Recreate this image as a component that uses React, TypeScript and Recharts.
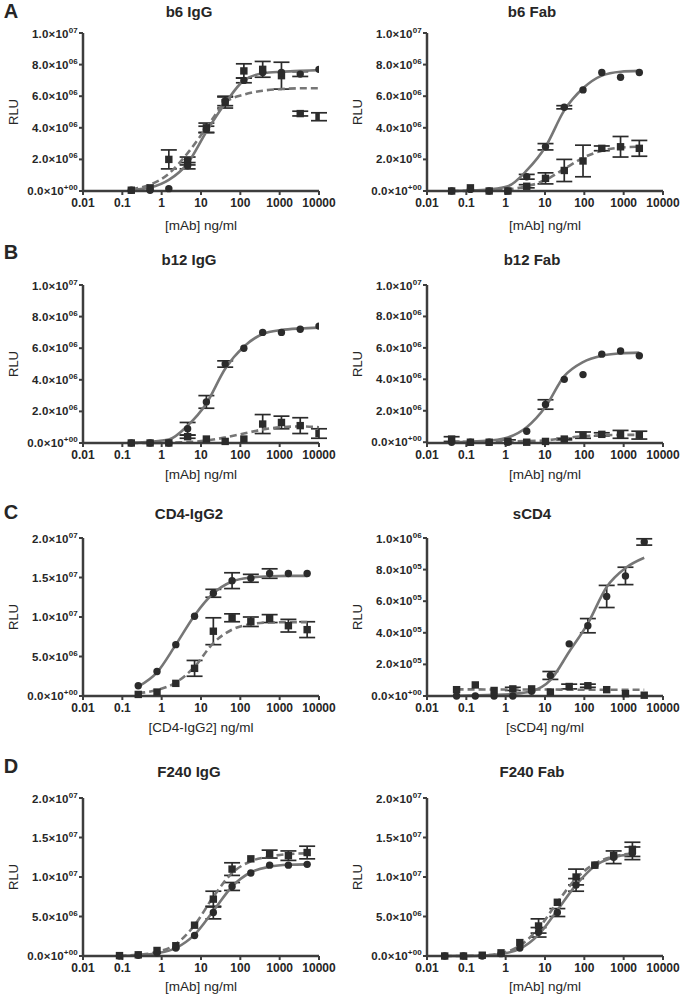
import { ComposedChart, ErrorBar, Line, Scatter, XAxis, YAxis } from "recharts";

// concentrations (ng/ml), 3-fold dilution series
const conc10000 = [0.169, 0.508, 1.52, 4.57, 13.7, 41.2, 123, 370, 1111, 3333, 10000];
const conc2500 = [0.0423, 0.127, 0.381, 1.14, 3.43, 10.3, 30.9, 92.6, 278, 833, 2500];
const conc5000 = [0.254, 0.762, 2.29, 6.86, 20.6, 61.7, 185, 556, 1667, 5000];
const conc3333 = [0.0565, 0.169, 0.508, 1.52, 4.57, 13.7, 41.2, 123, 370, 1111, 3333];
const conc5000b = [0.0847, 0.254, 0.762, 2.29, 6.86, 20.6, 61.7, 185, 556, 1667, 5000];
const conc1667 = [0.0282, 0.0847, 0.254, 0.762, 2.29, 6.86, 20.6, 61.7, 185, 556, 1667];

const xTicks = [0.01, 0.1, 1, 10, 100, 1000, 10000];
const xTickLabels = ["0.01", "0.1", "1", "10", "100", "1000", "10000"];

// y values in millions of RLU
const yTicks10 = [0, 2, 4, 6, 8, 10];
const yLabels10 = [["0.0×10", "+00"], ["2.0×10", "06"], ["4.0×10", "06"], ["6.0×10", "06"], ["8.0×10", "06"], ["1.0×10", "07"]];
const yTicks20 = [0, 5, 10, 15, 20];
const yLabels20 = [["0.0×10", "+00"], ["5.0×10", "06"], ["1.0×10", "07"], ["1.5×10", "07"], ["2.0×10", "07"]];
const yTicks1 = [0, 0.2, 0.4, 0.6, 0.8, 1.0];
const yLabels1 = [["0.0×10", "+00"], ["2.0×10", "05"], ["4.0×10", "05"], ["6.0×10", "05"], ["8.0×10", "05"], ["1.0×10", "06"]];

// b6 IgG
const b6IgGCirc = [0.05, 0.05, 0.15, 1.6, 3.9, 5.7, 7.0, 7.5, 7.5, 7.4, 7.7];
const b6IgGCircErr = [0, 0, 0, 0.2, 0.2, 0.3, 0.15, 0, 0, 0.15, 0];
const b6IgGSq = [0.05, 0.2, 2.0, 1.9, 4.0, 5.6, 7.6, 7.7, 7.3, 4.9, 4.7];
const b6IgGSqErr = [0, 0, 0.6, 0.25, 0.3, 0.35, 0.45, 0.5, 0.85, 0.15, 0.25];
const b6IgGFit = [0.07, 0.22, 0.7, 1.75, 3.75, 5.55, 7.0, 7.45, 7.55, 7.6, 7.65];
const b6IgGFitDash = [0.12, 0.4, 1.1, 2.4, 4.0, 5.6, 6.1, 6.35, 6.45, 6.5, 6.5];

// b6 Fab
const b6FabCirc = [0, 0.1, 0, 0, 0.9, 2.8, 5.3, 6.4, 7.5, 7.2, 7.5];
const b6FabCircErr = [0, 0, 0, 0, 0.15, 0.2, 0.1, 0, 0, 0, 0];
const b6FabSq = [0, 0.2, 0, 0, 0.3, 0.8, 1.3, 1.9, 2.7, 2.8, 2.7];
const b6FabSqErr = [0, 0, 0, 0, 0.1, 0.35, 0.7, 1.0, 0.15, 0.65, 0.5];
const b6FabFit = [0.01, 0.03, 0.1, 0.3, 1.3, 2.8, 5.1, 6.5, 7.3, 7.55, 7.6];
const b6FabFitDash = [0, 0.01, 0.03, 0.1, 0.3, 0.7, 1.4, 2.1, 2.55, 2.75, 2.8];

// b12 IgG
const b12IgGCirc = [0, 0, 0, 0.9, 2.6, 5.0, 6.0, 7.0, 7.0, 7.2, 7.4];
const b12IgGCircErr = [0, 0, 0, 0.4, 0.4, 0.2, 0, 0, 0, 0, 0];
const b12IgGSq = [0, 0, 0, 0.4, 0.25, 0.1, 0.25, 1.2, 1.3, 1.1, 0.6];
const b12IgGSqErr = [0, 0, 0, 0.1, 0, 0, 0, 0.6, 0.4, 0.5, 0.3];
const b12IgGFit = [0.03, 0.08, 0.22, 1.1, 2.5, 4.7, 6.1, 6.9, 7.15, 7.25, 7.3];
const b12IgGFitDash = [0, 0, 0.02, 0.06, 0.15, 0.35, 0.6, 0.85, 1.0, 1.05, 1.0];

// b12 Fab
const b12FabCirc = [0, 0, 0, 0, 0.7, 2.4, 4.0, 4.3, 5.6, 5.8, 5.5];
const b12FabCircErr = [0, 0, 0, 0, 0, 0.3, 0, 0, 0, 0, 0];
const b12FabSq = [0.2, 0, 0, 0.05, 0, 0.05, 0.2, 0.45, 0.5, 0.5, 0.45];
const b12FabSqErr = [0.15, 0, 0, 0.1, 0, 0, 0.05, 0.2, 0.1, 0.25, 0.25];
const b12FabFit = [0.01, 0.03, 0.1, 0.3, 0.95, 2.25, 4.2, 5.1, 5.5, 5.65, 5.7];
const b12FabFitDash = [0.03, 0.03, 0.04, 0.05, 0.07, 0.12, 0.25, 0.38, 0.44, 0.46, 0.47];

// CD4-IgG2
const cd4Circ = [1.3, 3.1, 6.5, 10.1, 13.0, 14.6, 14.9, 15.5, 15.5, 15.5];
const cd4CircErr = [0, 0, 0, 0, 0.5, 1.0, 0.5, 0.6, 0, 0];
const cd4Sq = [0.2, 0.5, 1.6, 3.5, 8.2, 9.9, 9.4, 9.8, 8.9, 8.4];
const cd4SqErr = [0, 0, 0, 1.0, 1.7, 0.5, 0.6, 0.5, 0.8, 1.0];
const cd4Fit = [1.2, 3.0, 6.5, 10.2, 13.0, 14.5, 15.0, 15.15, 15.2, 15.2];
const cd4FitDash = [0.35, 0.75, 1.7, 3.7, 6.7, 8.4, 9.1, 9.3, 9.35, 9.35];

// sCD4
const sCd4Circ = [0, 0, 0, 0, 0.03, 0.13, 0.33, 0.445, 0.63, 0.76, 0.975];
const sCd4CircErr = [0, 0, 0, 0, 0, 0.025, 0, 0.045, 0.07, 0.055, 0.02];
const sCd4Sq = [0.04, 0.07, 0.035, 0.045, 0.045, 0.025, 0.06, 0.065, 0.04, 0.015, 0.005];
const sCd4SqErr = [0, 0, 0, 0.01, 0, 0, 0.015, 0.01, 0, 0, 0];
const sCd4Fit = [0.002, 0.004, 0.007, 0.013, 0.03, 0.1, 0.28, 0.46, 0.69, 0.81, 0.875];
const sCd4FitDash = [0.042, 0.042, 0.041, 0.041, 0.041, 0.041, 0.04, 0.04, 0.04, 0.04, 0.04];

// F240 IgG
const f240IgGCirc = [0, 0.1, 0.4, 1.0, 2.6, 5.5, 8.8, 10.5, 11.5, 11.5, 11.6];
const f240IgGCircErr = [0, 0, 0, 0, 0, 0.8, 0.5, 0, 0, 0, 0];
const f240IgGSq = [0.05, 0.15, 0.7, 1.3, 3.9, 7.2, 11.0, 12.3, 12.9, 12.7, 13.1];
const f240IgGSqErr = [0, 0, 0, 0, 0, 1.0, 0.8, 0, 0.5, 0.6, 0.8];
const f240IgGFit = [0.02, 0.1, 0.35, 1.0, 2.7, 5.7, 8.8, 10.6, 11.3, 11.55, 11.6];
const f240IgGFitDash = [0.03, 0.15, 0.5, 1.5, 3.9, 7.5, 10.5, 12.0, 12.6, 12.9, 13.0];

// F240 Fab
const f240FabCirc = [0, 0, 0, 0.3, 1.0, 3.0, 5.5, 9.0, 11.5, 12.5, 13.0];
const f240FabCircErr = [0, 0, 0, 0, 0, 0.6, 0.5, 0.8, 0, 0.8, 0.8];
const f240FabSq = [0, 0, 0.1, 0.4, 1.7, 3.8, 6.8, 10.0, 11.5, 12.7, 13.5];
const f240FabSqErr = [0, 0, 0, 0, 0, 0.9, 0, 1.0, 0, 0, 0.9];
const f240FabFit = [0, 0.01, 0.05, 0.25, 0.9, 2.7, 5.8, 9.0, 11.4, 12.5, 12.9];
const f240FabFitDash = [0, 0.01, 0.08, 0.35, 1.3, 3.5, 6.8, 9.8, 11.7, 12.6, 13.0];

const FONT = "'Liberation Sans', Arial, Helvetica, sans-serif";
const AXIS = "#3d3d3d";
const CURVE = "#767676";
const MARK = "#2b2b2b";
const TEXT = "#262626";

const panels = [
  { letter: "A", title: "b6 IgG", xLabel: "[mAb] ng/ml", col: 0, row: 0, conc: conc10000, circ: b6IgGCirc, circErr: b6IgGCircErr, sq: b6IgGSq, sqErr: b6IgGSqErr, fit: b6IgGFit, fitDash: b6IgGFitDash, yMax: 10, yTicks: yTicks10, yLabels: yLabels10 },
  { title: "b6 Fab", xLabel: "[mAb] ng/ml", col: 1, row: 0, conc: conc2500, circ: b6FabCirc, circErr: b6FabCircErr, sq: b6FabSq, sqErr: b6FabSqErr, fit: b6FabFit, fitDash: b6FabFitDash, yMax: 10, yTicks: yTicks10, yLabels: yLabels10 },
  { letter: "B", title: "b12 IgG", xLabel: "[mAb] ng/ml", col: 0, row: 1, conc: conc10000, circ: b12IgGCirc, circErr: b12IgGCircErr, sq: b12IgGSq, sqErr: b12IgGSqErr, fit: b12IgGFit, fitDash: b12IgGFitDash, yMax: 10, yTicks: yTicks10, yLabels: yLabels10 },
  { title: "b12 Fab", xLabel: "[mAb] ng/ml", col: 1, row: 1, conc: conc2500, circ: b12FabCirc, circErr: b12FabCircErr, sq: b12FabSq, sqErr: b12FabSqErr, fit: b12FabFit, fitDash: b12FabFitDash, yMax: 10, yTicks: yTicks10, yLabels: yLabels10 },
  { letter: "C", title: "CD4-IgG2", xLabel: "[CD4-IgG2] ng/ml", col: 0, row: 2, conc: conc5000, circ: cd4Circ, circErr: cd4CircErr, sq: cd4Sq, sqErr: cd4SqErr, fit: cd4Fit, fitDash: cd4FitDash, yMax: 20, yTicks: yTicks20, yLabels: yLabels20 },
  { title: "sCD4", xLabel: "[sCD4] ng/ml", col: 1, row: 2, conc: conc3333, circ: sCd4Circ, circErr: sCd4CircErr, sq: sCd4Sq, sqErr: sCd4SqErr, fit: sCd4Fit, fitDash: sCd4FitDash, yMax: 1, yTicks: yTicks1, yLabels: yLabels1 },
  { letter: "D", title: "F240 IgG", xLabel: "[mAb] ng/ml", col: 0, row: 3, conc: conc5000b, circ: f240IgGCirc, circErr: f240IgGCircErr, sq: f240IgGSq, sqErr: f240IgGSqErr, fit: f240IgGFit, fitDash: f240IgGFitDash, yMax: 20, yTicks: yTicks20, yLabels: yLabels20 },
  { title: "F240 Fab", xLabel: "[mAb] ng/ml", col: 1, row: 3, conc: conc1667, circ: f240FabCirc, circErr: f240FabCircErr, sq: f240FabSq, sqErr: f240FabSqErr, fit: f240FabFit, fitDash: f240FabFitDash, yMax: 20, yTicks: yTicks20, yLabels: yLabels20 },
];

// layout: plot area tops per row, plot left per column
const plotTops = [33, 285, 538, 798];
const plotLefts = [83, 427];
const PLOT_W = 236;
const PLOT_H = 158;
const Y_AXIS_W = 83;
const M_TOP = 8;
const xTitleOffset = [35, 32, 32, 31];

const CircleDot = (props: any) => {
  const { cx, cy } = props;
  if (cx == null || cy == null) return null;
  return <circle cx={cx} cy={cy} r={3.7} fill={MARK} />;
};

const SquareDot = (props: any) => {
  const { cx, cy } = props;
  if (cx == null || cy == null) return null;
  return <rect x={cx - 3.7} y={cy - 3.7} width={7.4} height={7.4} fill={MARK} />;
};

const NoDot = () => null;

function makeYTick(labels: string[][], ticks: number[]) {
  return (props: any) => {
    const { x, y, payload } = props;
    const idx = ticks.indexOf(payload.value);
    const lab = labels[idx] || ["", ""];
    return (
      <text x={x} y={y + 4} textAnchor="end" fontSize={11.5} fontWeight="bold" fill={TEXT} fontFamily={FONT} letterSpacing={0.2}>
        {lab[0]}
        <tspan dy={-5} fontSize={8}>{lab[1]}</tspan>
      </text>
    );
  };
}

function Panel({ p }: { p: any }) {
  const circles = p.conc.map((x: number, i: number) => ({ x, y: p.circ[i], err: p.circErr[i] }));
  const squares = p.conc.map((x: number, i: number) => ({ x, y: p.sq[i], err: p.sqErr[i] }));
  const circleBars = circles.filter((d: any) => d.err > 0);
  const squareBars = squares.filter((d: any) => d.err > 0);
  const fit = p.conc.map((x: number, i: number) => ({ x, y: p.fit[i] }));
  const fitDash = p.conc.map((x: number, i: number) => ({ x, y: p.fitDash[i] }));
  const left = plotLefts[p.col] - Y_AXIS_W;
  const top = plotTops[p.row] - M_TOP;
  return (
    <div style={{ position: "absolute", left, top }}>
      <ComposedChart
        width={Y_AXIS_W + PLOT_W + 24}
        height={M_TOP + PLOT_H + 26}
        margin={{ top: M_TOP, right: 24, bottom: 0, left: 0 }}
      >
        <XAxis
          type="number"
          dataKey="x"
          scale="log"
          domain={[0.01, 10000]}
          ticks={xTicks}
          allowDataOverflow
          height={26}
          tickSize={4}
          tickMargin={3}
          axisLine={{ stroke: AXIS, strokeWidth: 2.5 }}
          tickLine={{ stroke: AXIS, strokeWidth: 2 }}
          tick={{ fontSize: 12, fontWeight: "bold", fill: TEXT, fontFamily: FONT }}
          tickFormatter={(v: number) => xTickLabels[xTicks.indexOf(v)]}
        />
        <YAxis
          type="number"
          dataKey="y"
          domain={[0, p.yMax]}
          ticks={p.yTicks}
          width={Y_AXIS_W}
          tickSize={4}
          tickMargin={1}
          axisLine={{ stroke: AXIS, strokeWidth: 2.5 }}
          tickLine={{ stroke: AXIS, strokeWidth: 2 }}
          tick={makeYTick(p.yLabels, p.yTicks)}
        />
        <Scatter data={squareBars} dataKey="y" shape={NoDot} isAnimationActive={false}>
          <ErrorBar dataKey="err" direction="y" width={8} stroke={MARK} strokeWidth={1.7} />
        </Scatter>
        <Scatter data={circleBars} dataKey="y" shape={NoDot} isAnimationActive={false}>
          <ErrorBar dataKey="err" direction="y" width={8} stroke={MARK} strokeWidth={1.7} />
        </Scatter>
        <Scatter data={squares} dataKey="y" shape={SquareDot} isAnimationActive={false} />
        <Scatter data={circles} dataKey="y" shape={CircleDot} isAnimationActive={false} />
        <Line data={fitDash} dataKey="y" type="monotone" dot={false} stroke={CURVE} strokeWidth={2.6} strokeDasharray="7 4" isAnimationActive={false} />
        <Line data={fit} dataKey="y" type="monotone" dot={false} stroke={CURVE} strokeWidth={2.6} isAnimationActive={false} />
      </ComposedChart>
    </div>
  );
}

const titleRowY = [11, 259, 513, 771];
const letterRowY = [11, 252, 512, 766];
const titleColX = [189, 532];

const centered = (x: number, y: number, extra: any = {}) => ({
  position: "absolute" as const,
  left: x,
  top: y,
  transform: "translate(-50%, -50%)",
  whiteSpace: "nowrap" as const,
  lineHeight: 1,
  color: TEXT,
  fontFamily: FONT,
  ...extra,
});

export default function App() {
  return (
    <div style={{ position: "absolute", left: 0, top: 0, width: 680, height: 996, background: "#fff", overflow: "hidden" }}>
      {panels.map((p, i) => (
        <Panel key={i} p={p} />
      ))}
      {panels.map((p, i) => (
        <div key={"t" + i} style={centered(titleColX[p.col], titleRowY[p.row], { fontSize: 15, fontWeight: "bold" })}>
          {p.title}
        </div>
      ))}
      {panels.map((p, i) =>
        p.letter ? (
          <div key={"l" + i} style={centered(11, letterRowY[p.row], { fontSize: 20, fontWeight: "bold" })}>
            {p.letter}
          </div>
        ) : null
      )}
      {panels.map((p, i) => (
        <div key={"x" + i} style={centered(plotLefts[p.col] + PLOT_W / 2, plotTops[p.row] + PLOT_H + xTitleOffset[p.row], { fontSize: 13.5 })}>
          {p.xLabel}
        </div>
      ))}
      {panels.map((p, i) => (
        <div
          key={"y" + i}
          style={centered(plotLefts[p.col] - 70, plotTops[p.row] + PLOT_H / 2, { fontSize: 13, transform: "translate(-50%, -50%) rotate(-90deg)" })}
        >
          RLU
        </div>
      ))}
    </div>
  );
}
